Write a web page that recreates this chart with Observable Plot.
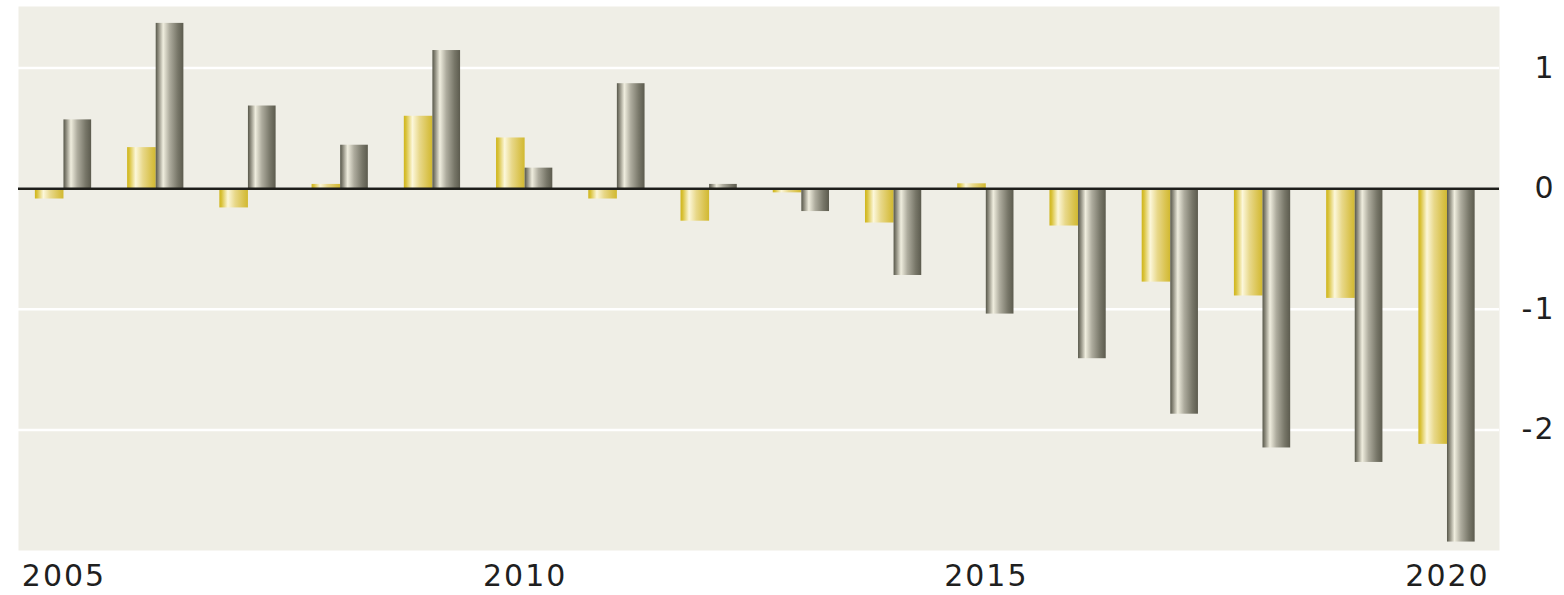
<!DOCTYPE html>
<html>
<head>
<meta charset="utf-8">
<script src="https://cdn.jsdelivr.net/npm/d3@7"></script>
<script src="https://cdn.jsdelivr.net/npm/@observablehq/plot@0.6"></script>
<style>
  html, body { margin: 0; padding: 0; background: #ffffff; }
  #chart svg { display: block; }
</style>
</head>
<body>
<div id="chart"></div>
<script>
const years = [2005, 2006, 2007, 2008, 2009, 2010, 2011, 2012, 2013, 2014, 2015, 2016, 2017, 2018, 2019, 2020];
const goldValues = [-0.086, 0.34, -0.16, 0.035, 0.6, 0.42, -0.086, -0.27, -0.035, -0.285, 0.04, -0.31, -0.775, -0.89, -0.91, -2.12];
const greyValues = [0.57, 1.37, 0.685, 0.36, 1.145, 0.17, 0.87, 0.035, -0.19, -0.72, -1.04, -1.41, -1.87, -2.15, -2.27, -2.93];
const xTicks = [2005, 2010, 2015, 2020];
const yTicks = [-2, -1, 0, 1];

const gold = years.map((year, i) => ({year, value: goldValues[i]}));
const grey = years.map((year, i) => ({year, value: greyValues[i]}));

const chart = Plot.plot({
  width: 1564,
  height: 595,
  marginTop: 6,
  marginBottom: 45,
  marginLeft: 18,
  marginRight: 65,
  style: {fontFamily: "'DejaVu Sans', sans-serif", fontSize: "30px", color: "#1f1f1f", letterSpacing: "2px"},
  x: {domain: [2004.507, 2020.564], ticks: xTicks, tickFormat: d => String(d), label: null},
  y: {domain: [-3.0, 1.51], ticks: yTicks, tickFormat: d => String(d), label: null},
  marks: [
    Plot.frame({fill: "#efeee6", stroke: "none"}),
    Plot.ruleY(yTicks, {stroke: "#ffffff", strokeWidth: 2.5}),
    Plot.rect(gold, {x1: d => d.year - 0.31, x2: d => d.year, y1: 0, y2: "value", fill: "url(#goldGrad)", inset: 0}),
    Plot.rect(grey, {x1: d => d.year, x2: d => d.year + 0.30, y1: 0, y2: "value", fill: "url(#greyGrad)", inset: 0}),
    Plot.ruleY([0], {stroke: "#1e1e1a", strokeWidth: 2.5}),
    Plot.axisX({anchor: "bottom", tickSize: 0, tickPadding: 14, ticks: xTicks, tickFormat: d => String(d), fontSize: 30, label: null}),
    Plot.axisY({anchor: "right", tickSize: 0, tickPadding: 0, ticks: yTicks, tickFormat: d => String(d), textAnchor: "end", dx: 56, fontSize: 30, label: null})
  ]
});

document.getElementById("chart").appendChild(chart);

const svg = d3.select(chart);
const defs = svg.insert("defs", ":first-child");
function grad(id, stops) {
  const g = defs.append("linearGradient").attr("id", id).attr("x1", "0%").attr("x2", "100%").attr("y1", "0%").attr("y2", "0%");
  stops.forEach(([o, c]) => g.append("stop").attr("offset", o).attr("stop-color", c));
}
grad("goldGrad", [
  ["0%", "#cfb51c"], ["8%", "#d9c23a"], ["30%", "#fcf7da"], ["55%", "#e8d88a"], ["85%", "#d9c24c"], ["100%", "#d1b930"]
]);
grad("greyGrad", [
  ["0%", "#57574a"], ["10%", "#8e8c7e"], ["27%", "#efedde"], ["50%", "#aeac9e"], ["80%", "#777668"], ["100%", "#5c5b4e"]
]);
</script>
</body>
</html>
